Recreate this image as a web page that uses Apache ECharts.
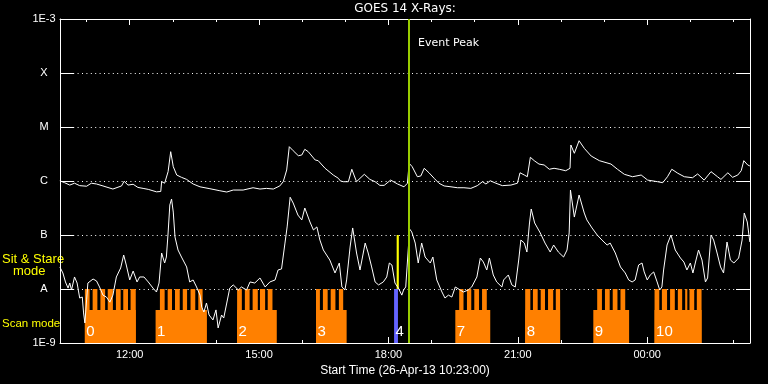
<!DOCTYPE html>
<html><head><meta charset="utf-8">
<script src="https://cdn.jsdelivr.net/npm/echarts@6/dist/echarts.min.js"></script>
<style>html,body{margin:0;padding:0;background:#000}#c{width:768px;height:384px}</style>
</head><body><div id="c"></div>
<script>
// ---- axis data ----
const startHour = 10.3833;           // 26-Apr-13 10:23
const endHour = 26.3833;             // +16 h
const xMajorTicks = [12, 15, 18, 21, 24];
const xMinorTicks = [11,12,13,14,15,16,17,18,19,20,21,22,23,24,25,26];
const yTickLabels = ['1E-9', 'A', 'B', 'C', 'M', 'X', '1E-3'];
const yMin = 1e-9, yMax = 1e-3;

// ---- GOES long channel (1-8 A) ----
const longT = [10.38,10.49,10.61,10.72,10.84,11.00,11.11,11.23,11.38,11.61,11.81,11.87,11.96,12.08,12.19,12.31,12.43,12.62,12.72,12.74,12.81,12.85,12.89,12.95,12.98,13.01,13.09,13.20,13.32,13.47,13.63,13.86,14.09,14.25,14.40,14.63,14.86,15.02,15.17,15.33,15.48,15.56,15.64,15.70,15.79,15.91,15.99,16.06,16.14,16.30,16.37,16.53,16.72,16.84,16.88,16.95,17.07,17.15,17.20,17.26,17.34,17.44,17.57,17.69,17.80,17.90,18.05,18.21,18.36,18.44,18.48,18.55,18.67,18.75,18.83,18.94,19.06,19.17,19.29,19.45,19.60,19.75,19.91,20.06,20.18,20.26,20.36,20.49,20.64,20.84,20.99,21.05,21.15,21.22,21.29,21.38,21.49,21.61,21.73,21.84,21.96,22.11,22.21,22.23,22.31,22.42,22.54,22.70,22.89,23.16,23.31,23.47,23.66,23.86,24.01,24.24,24.36,24.47,24.57,24.71,24.86,25.05,25.17,25.32,25.48,25.63,25.71,25.87,25.98,26.10,26.18,26.24,26.33,26.38];
const longF = [1.01e-6,0.93e-6,0.84e-6,0.91e-6,0.82e-6,0.80e-6,0.91e-6,0.88e-6,0.81e-6,0.71e-6,0.81e-6,0.99e-6,0.84e-6,0.87e-6,0.76e-6,0.73e-6,0.70e-6,0.63e-6,0.64e-6,0.97e-6,0.91e-6,0.96e-6,1.49e-6,3.49e-6,3.26e-6,1.84e-6,1.29e-6,1.17e-6,1.07e-6,0.88e-6,0.78e-6,0.72e-6,0.66e-6,0.625e-6,0.68e-6,0.68e-6,0.75e-6,0.71e-6,0.73e-6,0.71e-6,0.81e-6,0.97e-6,1.60e-6,4.32e-6,3.64e-6,2.94e-6,3.03e-6,3.86e-6,3.49e-6,2.45e-6,2.38e-6,1.72e-6,1.29e-6,1.12e-6,1.01e-6,0.97e-6,0.97e-6,1.65e-6,1.29e-6,0.97e-6,1.12e-6,1.33e-6,1.07e-6,0.97e-6,0.83e-6,0.83e-6,1.04e-6,0.88e-6,0.78e-6,0.91e-6,2.13e-6,1.84e-6,1.20e-6,1.24e-6,1.72e-6,1.42e-6,1.12e-6,0.91e-6,0.81e-6,0.78e-6,0.75e-6,0.75e-6,0.73e-6,0.82e-6,0.97e-6,0.88e-6,1.01e-6,0.91e-6,0.82e-6,0.84e-6,0.91e-6,1.42e-6,1.29e-6,1.20e-6,2.75e-6,2.38e-6,2.06e-6,1.98e-6,1.65e-6,1.72e-6,1.65e-6,1.55e-6,1.72e-6,4.64e-6,3.26e-6,5.57e-6,4.03e-6,2.90e-6,2.38e-6,2.06e-6,1.65e-6,1.33e-6,1.20e-6,1.29e-6,1.04e-6,0.97e-6,0.93e-6,1.20e-6,1.65e-6,1.39e-6,1.20e-6,1.15e-6,1.35e-6,1.04e-6,1.49e-6,1.20e-6,1.07e-6,1.42e-6,1.17e-6,1.29e-6,1.55e-6,2.38e-6,1.98e-6,1.90e-6];

// ---- GOES short channel (0.5-4 A) ----
const shortT = [10.38,10.45,10.51,10.57,10.61,10.65,10.72,10.78,10.84,10.90,10.93,10.96,11.00,11.03,11.15,11.23,11.30,11.38,11.46,11.54,11.61,11.69,11.79,11.86,11.92,12.00,12.08,12.17,12.23,12.33,12.43,12.54,12.62,12.68,12.74,12.77,12.81,12.85,12.89,12.93,12.97,13.01,13.05,13.12,13.20,13.32,13.39,13.47,13.55,13.63,13.67,13.72,13.78,13.84,13.93,14.00,14.05,14.13,14.18,14.25,14.32,14.40,14.52,14.59,14.71,14.79,14.90,15.02,15.14,15.25,15.37,15.44,15.52,15.60,15.65,15.72,15.79,15.90,15.99,16.06,16.18,16.26,16.34,16.41,16.49,16.64,16.76,16.86,16.92,16.99,17.03,17.11,17.17,17.26,17.34,17.46,17.53,17.61,17.69,17.77,17.88,17.96,18.02,18.08,18.15,18.23,18.31,18.35,18.40,18.43,18.49,18.54,18.62,18.69,18.77,18.85,18.97,19.03,19.12,19.24,19.31,19.39,19.47,19.55,19.66,19.74,19.85,19.93,20.05,20.13,20.20,20.28,20.34,20.43,20.51,20.63,20.67,20.78,20.86,20.94,21.02,21.07,21.15,21.21,21.27,21.31,21.39,21.52,21.63,21.75,21.83,21.94,22.06,22.14,22.19,22.22,22.31,22.42,22.54,22.60,22.72,22.84,22.95,23.07,23.14,23.26,23.38,23.49,23.57,23.65,23.72,23.80,23.88,23.93,24.00,24.07,24.15,24.23,24.29,24.34,24.38,24.46,24.55,24.65,24.77,24.85,24.92,25.00,25.06,25.12,25.19,25.27,25.35,25.40,25.48,25.54,25.62,25.70,25.77,25.85,25.93,26.01,26.12,26.20,26.25,26.32,26.38];
const shortF = [2.56e-8,1.98e-8,1.35e-8,1.04e-8,1.29e-8,0.96e-8,1.67e-8,1.29e-8,0.68e-8,0.71e-8,0.36e-8,0.235e-8,0.63e-8,1.29e-8,1.53e-8,1.41e-8,1.09e-8,0.77e-8,0.71e-8,0.57e-8,0.77e-8,1.67e-8,2.45e-8,4.26e-8,2.78e-8,1.47e-8,2.15e-8,1.35e-8,1.67e-8,1.67e-8,1.35e-8,1.04e-8,0.88e-8,1.29e-8,4.64e-8,4.84e-8,3.03e-8,3.91e-8,10.9e-8,35.9e-8,46.4e-8,26.6e-8,9.17e-8,5.27e-8,3.91e-8,2.56e-8,1.35e-8,1.47e-8,1.09e-8,0.77e-8,0.46e-8,0.375e-8,0.55e-8,0.33e-8,0.267e-8,0.41e-8,0.19e-8,0.33e-8,0.29e-8,0.55e-8,1.04e-8,1.19e-8,0.96e-8,1.09e-8,0.96e-8,1.35e-8,1.29e-8,1.60e-8,1.09e-8,1.35e-8,1.47e-8,2.25e-8,2.35e-8,7.10e-8,14.1e-8,50e-8,39.1e-8,23.4e-8,19e-8,31.6e-8,17.4e-8,12.4e-8,14.1e-8,8.07e-8,5.27e-8,3.44e-8,1.98e-8,3.03e-8,1.09e-8,0.96e-8,1.47e-8,5.99e-8,13.5e-8,4.64e-8,2.25e-8,7.10e-8,4.64e-8,2.56e-8,1.35e-8,1.19e-8,1.35e-8,1.67e-8,3.03e-8,2.78e-8,1.29e-8,1.04e-8,0.77e-8,0.96e-8,1.09e-8,2.45e-8,12.9e-8,11.4e-8,7.10e-8,3.03e-8,7.10e-8,3.91e-8,3.03e-8,3.91e-8,1.47e-8,0.88e-8,0.68e-8,0.77e-8,0.71e-8,1.09e-8,0.96e-8,0.88e-8,0.96e-8,1.09e-8,1.67e-8,3.75e-8,3.16e-8,2.25e-8,3.75e-8,1.82e-8,1.35e-8,1.09e-8,1.47e-8,1.82e-8,1.19e-8,1.09e-8,3.44e-8,8.07e-8,7.10e-8,4.84e-8,16.7e-8,30.3e-8,16.7e-8,10.9e-8,7.10e-8,4.84e-8,6.52e-8,4.84e-8,3.91e-8,5.27e-8,10.9e-8,68e-8,21.5e-8,55e-8,25.5e-8,19e-8,13.5e-8,10e-8,8.07e-8,6.52e-8,7.10e-8,4.64e-8,2.56e-8,1.98e-8,1.47e-8,1.35e-8,1.47e-8,2.78e-8,3.03e-8,2.07e-8,1.47e-8,1.82e-8,2.07e-8,1.35e-8,0.96e-8,1.09e-8,2.25e-8,6.52e-8,10e-8,5.27e-8,3.75e-8,3.16e-8,2.25e-8,3.03e-8,1.98e-8,3.16e-8,5.27e-8,3.44e-8,1.35e-8,1.60e-8,10e-8,8.07e-8,4.64e-8,2.56e-8,1.98e-8,7.41e-8,3.44e-8,3.03e-8,3.75e-8,8.07e-8,25.5e-8,17.4e-8,7.41e-8];

// ---- observation timeline ----
const scanLevel = 4.1e-9;   // top of scan-mode bars
const stareLevel = 1e-8;    // top of raster teeth / sit & stare base
const stareTop = 1e-7;
const blockStarts = [10.96, 12.60, 14.49, 16.32, 19.55, 21.17, 22.75, 24.17];
const blockEnds   = [12.14, 13.79, 15.41, 17.03, 20.36, 21.98, 23.58, 25.26];
const blockLabels = ['0', '1', '2', '3', '7', '8', '9', '10'];
const teethStarts = [10.96,11.14,11.32,11.49,11.68,11.85,12.02, 12.70,12.88,13.05,13.23,13.41,13.59, 14.49,14.67,14.85,15.02,15.20, 16.32,16.48,16.66,16.85, 19.64,19.82,19.99,20.17, 21.17,21.35,21.53,21.70,21.88, 22.84,23.02,23.20,23.38, 24.17,24.34,24.53,24.71,24.88,24.98,25.15];
const teethEnds   = [11.07,11.25,11.43,11.61,11.79,11.96,12.14, 12.81,12.98,13.16,13.33,13.52,13.69, 14.60,14.78,14.97,15.14,15.31, 16.41,16.59,16.77,16.95, 19.74,19.92,20.10,20.28, 21.29,21.46,21.63,21.82,21.98, 22.95,23.13,23.31,23.49, 24.28,24.46,24.64,24.81,24.93,25.09,25.26];
const stareBlockStart = [18.13], stareBlockEnd = [18.22], stareBlockLabel = ['4'];
const stareBarStart = [18.19], stareBarEnd = [18.24];
const eventPeakHour = 18.48;

// ---- build ----
const zip = (a, b) => a.map((v, i) => [v, b[i]]);
const white = '#ffffff';
const lab = 'Liberation Sans';

function rectRenderer(color, low, high, labels) {
  return function (params, api) {
    const p0 = api.coord([api.value(0), high]);
    const p1 = api.coord([api.value(1), low]);
    const children = [{
      type: 'rect',
      shape: { x: p0[0], y: p0[1], width: p1[0] - p0[0], height: p1[1] - p0[1] },
      style: { fill: color }
    }];
    if (labels) {
      children.push({
        type: 'text', x: p0[0] + 1.5, y: p1[1] - 4,
        style: { text: labels[params.dataIndex], fill: white, font: '15px ' + lab, align: 'left', verticalAlign: 'bottom' }
      });
    }
    return { type: 'group', children };
  };
}

const hourFmt = v => { const h = Math.round(v) % 24; return (h < 10 ? '0' : '') + h + ':00'; };
function xAx(pos, ticks, len, showLine, showLabel, extra) {
  return Object.assign({
    type: 'value', position: pos, min: startHour, max: endHour, gridIndex: 0,
    axisLine: { show: showLine, onZero: false, lineStyle: { color: white, width: 1 } },
    axisTick: { show: true, inside: true, length: len, customValues: ticks, lineStyle: { color: white, width: 1 } },
    axisLabel: { show: showLabel, customValues: ticks, formatter: hourFmt, color: white, fontFamily: lab, fontSize: 11, margin: 6 },
    splitLine: { show: false }
  }, extra || {});
}
function yAx(pos, showLabel, showSplit) {
  return {
    type: 'log', logBase: 10, position: pos, min: yMin, max: yMax, interval: 1,
    axisLine: { show: true, onZero: false, lineStyle: { color: white, width: 1 } },
    axisTick: { show: true, inside: true, length: 14, lineStyle: { color: white, width: 1 } },
    axisLabel: {
      show: showLabel, color: white, fontFamily: lab, fontSize: 11, margin: 16, align: 'center',
      formatter: v => yTickLabels[Math.round(Math.log10(v)) + 9]
    },
    splitLine: { show: showSplit, lineStyle: { color: white, width: 1, type: [1, 3.4] } },
    minorTick: { show: false }
  };
}

const chart = echarts.init(document.getElementById('c'), null, { renderer: 'canvas' });
chart.setOption({
  backgroundColor: '#000000',
  animation: false,
  grid: { left: 60, right: 18, top: 19, bottom: 41, containLabel: false },
  xAxis: [
    xAx('bottom', xMajorTicks, 6, true, true, {
      name: 'Start Time (26-Apr-13 10:23:00)', nameLocation: 'middle', nameGap: 22,
      nameTextStyle: { color: white, fontFamily: lab, fontSize: 12, verticalAlign: 'top' }
    }),
    xAx('bottom', xMinorTicks, 3, false, false),
    xAx('top', xMajorTicks, 6, true, false),
    xAx('top', xMinorTicks, 3, false, false)
  ],
  yAxis: [yAx('left', true, true), yAx('right', false, false)],
  graphic: [
    { type: 'text', x: 405, y: 9, style: { text: 'GOES 14 X-Rays:', fill: white, font: '12px DejaVu Sans', align: 'center', verticalAlign: 'middle' } },
    { type: 'text', x: 418, y: 43, style: { text: 'Event Peak', fill: white, font: '11px DejaVu Sans', align: 'left', verticalAlign: 'middle' } },
    { type: 'text', x: 2, y: 259, style: { text: 'Sit & Stare', fill: '#ffff00', font: '13px ' + lab, align: 'left', verticalAlign: 'middle' } },
    { type: 'text', x: 13, y: 271, style: { text: 'mode', fill: '#ffff00', font: '13px ' + lab, align: 'left', verticalAlign: 'middle' } },
    { type: 'text', x: 2, y: 324, style: { text: 'Scan mode', fill: '#ffff00', font: '11.5px ' + lab, align: 'left', verticalAlign: 'middle' } }
  ],
  series: [
    { type: 'custom', xAxisIndex: 0, yAxisIndex: 0, silent: true, z: 1,
      renderItem: rectRenderer('#ff8000', yMin, scanLevel, null),
      data: zip(blockStarts, blockEnds) },
    { type: 'custom', xAxisIndex: 0, yAxisIndex: 0, silent: true, z: 1,
      renderItem: rectRenderer('#ff8000', yMin, stareLevel, null),
      data: zip(teethStarts, teethEnds) },
    { type: 'custom', xAxisIndex: 0, yAxisIndex: 0, silent: true, z: 1,
      renderItem: rectRenderer('#6464ff', yMin, stareLevel, null),
      data: zip(stareBlockStart, stareBlockEnd) },
    { type: 'custom', xAxisIndex: 0, yAxisIndex: 0, silent: true, z: 1,
      renderItem: rectRenderer('#ffff00', stareLevel, stareTop, null),
      data: zip(stareBarStart, stareBarEnd) },
    { type: 'line', xAxisIndex: 0, yAxisIndex: 0, showSymbol: false, symbol: 'none', silent: true, z: 3,
      lineStyle: { color: white, width: 1 }, data: zip(longT, longF),
      markLine: { silent: true, symbol: 'none', animation: false, label: { show: false },
        lineStyle: { color: '#99cc00', width: 2, type: 'solid' }, data: [{ xAxis: eventPeakHour }] } },
    { type: 'line', xAxisIndex: 0, yAxisIndex: 0, showSymbol: false, symbol: 'none', silent: true, z: 3,
      lineStyle: { color: white, width: 1 }, data: zip(shortT, shortF) },
    { type: 'custom', xAxisIndex: 0, yAxisIndex: 0, silent: true, z: 4,
      renderItem: rectRenderer('rgba(0,0,0,0)', yMin, scanLevel, blockLabels),
      data: zip(blockStarts, blockEnds) },
    { type: 'custom', xAxisIndex: 0, yAxisIndex: 0, silent: true, z: 4,
      renderItem: rectRenderer('rgba(0,0,0,0)', yMin, stareLevel, stareBlockLabel),
      data: zip(stareBlockStart, stareBlockEnd) }
  ]
});
</script></body></html>
